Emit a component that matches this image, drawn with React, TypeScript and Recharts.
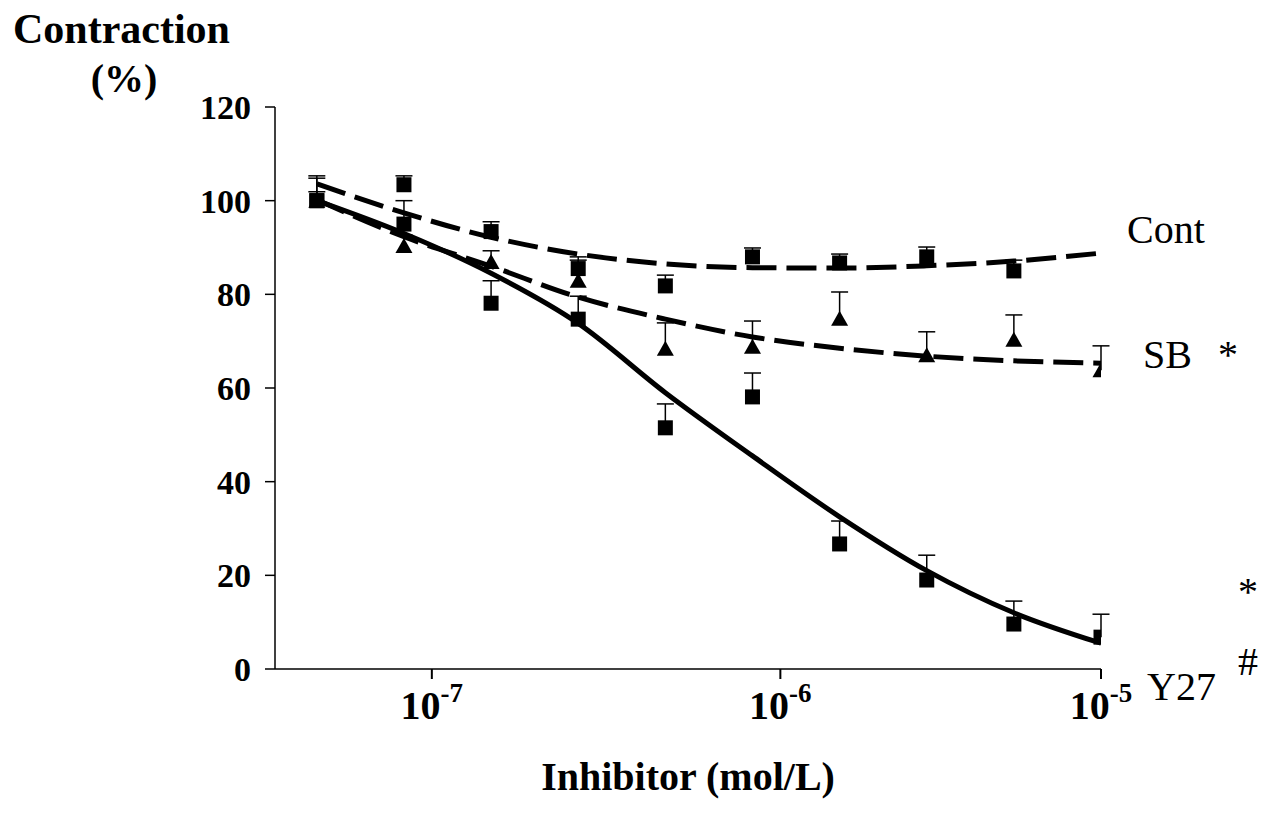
import { ComposedChart, Line, Scatter, XAxis, YAxis, ErrorBar } from "recharts";

const FONT = '"Liberation Serif", "Times New Roman", serif';

// log10 of inhibitor concentration (mol/L), read against the 10^-7 and 10^-6 ticks
const logDose = [-7.33, -7.08, -6.83, -6.58, -6.33, -6.08, -5.83, -5.58, -5.33, -5.08];

// mean contraction (%) and upper error (SEM)
const contMean = [100, 103.4, 93.4, 85.5, 81.8, 88.0, 86.7, 88.0, 85.0, null];
const contErr = [5.3, 1.9, 2.1, 2.5, 2.3, 1.9, 1.9, 2.1, 2.3, null];
const sbMean = [100, 90.3, 86.9, 82.9, 68.4, 68.8, 74.8, 67.0, 70.3, 63.8];
const sbErr = [4.8, 2.4, 2.4, 4.4, 5.5, 5.5, 5.7, 5.0, 5.3, 5.2];
const y27Mean = [100, 95.0, 78.1, 74.7, 51.5, 58.1, 26.7, 19.0, 9.6, 6.8];
const y27Err = [1.9, 5.0, 4.8, 4.9, 5.1, 5.1, 4.9, 5.3, 4.9, 4.9];

// fitted curves
const contFit = [103.6, 97.4, 92.2, 88.6, 86.5, 85.7, 85.6, 86.1, 87.1, 88.8];
const sbFit = [100.2, 92.3, 86.0, 79.4, 74.7, 70.9, 68.5, 66.8, 65.8, 65.3];
const y27Fit = [100, 93.0, 84.5, 73.8, 59.0, 45.5, 32.5, 21.0, 12.0, 5.5];

// the printed axis puts its 10^-5 mark at the last dose
const xTicks = [-7, -6, -5.08];
const yTicks = [0, 20, 40, 60, 80, 100, 120];

const fitData = logDose.map((x, i) => ({
  x,
  cont: contFit[i],
  sb: sbFit[i],
  y27: y27Fit[i],
}));

function points(mean: (number | null)[], err: (number | null)[]) {
  return logDose
    .map((x, i) => ({ x, y: mean[i], err: [0, err[i] ?? 0] }))
    .filter((p) => p.y !== null);
}

const contPts = points(contMean, contErr);
const sbPts = points(sbMean, sbErr);
const y27Pts = points(y27Mean, y27Err);

const Square = (p: any) => (
  <rect x={p.cx - 7.5} y={p.cy - 7.5} width={15} height={15} fill="#000" />
);

const Triangle = (p: any) => (
  <polygon
    points={`${p.cx},${p.cy - 8} ${p.cx + 8.5},${p.cy + 7} ${p.cx - 8.5},${p.cy + 7}`}
    fill="#000"
  />
);

function DecadeTick(props: any) {
  const { x, y, payload } = props;
  return (
    <text x={x} y={y + 38} textAnchor="middle" fontFamily={FONT} fontWeight="bold" fill="#000">
      <tspan fontSize={40}>10</tspan>
      <tspan fontSize={27} dy={-17}>
        {String(Math.round(payload.value))}
      </tspan>
    </text>
  );
}

export default function App() {
  return (
    <div style={{ position: "absolute", left: 0, top: 0, width: 1269, height: 839, background: "#fff" }}>
      <style>{".recharts-errorBar line:nth-of-type(3){display:none}"}</style>
      <ComposedChart
        width={1269}
        height={839}
        data={fitData}
        margin={{ top: 107, right: 168, left: 195, bottom: 110 }}
      >
        <XAxis
          type="number"
          dataKey="x"
          domain={[-7.45, -5.08]}
          ticks={xTicks}
          allowDataOverflow
          height={60}
          axisLine={{ stroke: "#000", strokeWidth: 1.5 }}
          tickLine={{ stroke: "#000", strokeWidth: 2 }}
          tickSize={10}
          tick={<DecadeTick />}
        />
        <YAxis
          type="number"
          domain={[0, 120]}
          ticks={yTicks}
          width={80}
          axisLine={{ stroke: "#000", strokeWidth: 1.5 }}
          tickLine={{ stroke: "#000", strokeWidth: 1.5 }}
          tickSize={10}
          tickMargin={14}
          tick={{ fill: "#000", fontSize: 34, fontWeight: "bold", fontFamily: FONT }}
        />
        <Line
          type="monotone"
          dataKey="cont"
          stroke="#000"
          strokeWidth={5}
          strokeDasharray="30 10"
          dot={false}
          isAnimationActive={false}
        />
        <Line
          type="monotone"
          dataKey="sb"
          stroke="#000"
          strokeWidth={5}
          strokeDasharray="30 10"
          dot={false}
          isAnimationActive={false}
        />
        <Line
          type="monotone"
          dataKey="y27"
          stroke="#000"
          strokeWidth={5}
          dot={false}
          isAnimationActive={false}
        />
        <Scatter data={contPts} dataKey="y" shape={Square} isAnimationActive={false}>
          <ErrorBar dataKey="err" direction="y" width={8.5} stroke="#000" strokeWidth={1.5} isAnimationActive={false} />
        </Scatter>
        <Scatter data={sbPts} dataKey="y" shape={Triangle} isAnimationActive={false}>
          <ErrorBar dataKey="err" direction="y" width={8.5} stroke="#000" strokeWidth={1.5} isAnimationActive={false} />
        </Scatter>
        <Scatter data={y27Pts} dataKey="y" shape={Square} isAnimationActive={false}>
          <ErrorBar dataKey="err" direction="y" width={8.5} stroke="#000" strokeWidth={1.5} isAnimationActive={false} />
        </Scatter>
      </ComposedChart>
      <svg
        width={1269}
        height={839}
        style={{ position: "absolute", left: 0, top: 0, pointerEvents: "none" }}
        fontFamily={FONT}
        fill="#000"
      >
        <text x={13} y={43} fontSize={42} fontWeight="bold">Contraction</text>
        <text x={124} y={92} fontSize={40} fontWeight="bold" textAnchor="middle">(%)</text>
        <text x={688} y={790} fontSize={40} fontWeight="bold" textAnchor="middle">Inhibitor (mol/L)</text>
        <text x={1127} y={243} fontSize={40}>Cont</text>
        <text x={1143} y={368} fontSize={40}>SB</text>
        <text x={1218} y={368} fontSize={40}>*</text>
        <text x={1147} y={700} fontSize={40}>Y27</text>
        <text x={1238} y={605} fontSize={40}>*</text>
        <text x={1238} y={675} fontSize={40}>#</text>
      </svg>
    </div>
  );
}
